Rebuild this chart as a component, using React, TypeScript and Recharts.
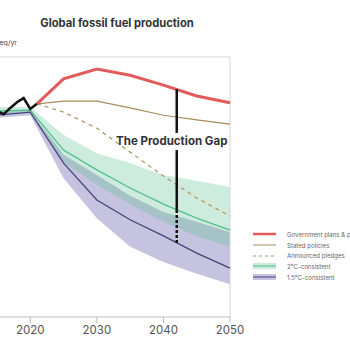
import { ComposedChart, Line, Area, XAxis, YAxis, ReferenceLine, ReferenceDot } from 'recharts';

// historical production, GtCO2eq/yr
const historyYears = [2015, 2016, 2017, 2018, 2019, 2020, 2021];
const historical = [39.6, 39.0, 40.2, 41.3, 42.1, 40.0, 41.0];

// national plans / policies
const projectionYears = [2021, 2025, 2030, 2035, 2040, 2045, 2050];
const governmentPlans = [41.0, 45.8, 47.7, 46.5, 44.6, 42.5, 41.2];
const statedPolicies = [41.0, 41.5, 41.5, 40.2, 38.8, 37.9, 37.1];
const announcedPledges = [41.0, 39.4, 36.3, 31.7, 27.1, 22.9, 19.4];

// temperature-consistent pathways (median + range)
const scenarioYears = [2015, 2020, 2025, 2030, 2035, 2040, 2045, 2050];
const twoDegMedian = [39.6, 39.8, 32.1, 28.3, 24.8, 21.7, 19.0, 16.7];
const twoDegHigh = [40.4, 40.4, 35.0, 31.5, 29.6, 27.3, 26.2, 25.0];
const twoDegLow = [39.0, 39.2, 29.8, 25.4, 21.7, 18.3, 15.6, 13.5];
const onePointFiveMedian = [38.8, 39.4, 29.6, 22.5, 18.7, 15.6, 12.3, 9.4];
const onePointFiveHigh = [39.4, 39.6, 31.2, 27.3, 23.3, 20.2, 18.3, 16.3];
const onePointFiveLow = [38.3, 38.8, 26.7, 19.0, 13.5, 10.6, 8.3, 6.3];

const xTicks = [2020, 2030, 2040, 2050];
const legendLabels = [
  'Government plans & projections',
  'Stated policies',
  'Announced pledges',
  '2°C-consistent',
  '1.5°C-consistent',
];

// production gap marker
const gapYear = 2042;
const gapTop = 43.8;
const gapTextTop = 35.4;
const gapTextBottom = 32.1;
const gapTwoDeg = 20.6;
const gapOnePointFive = 14.3;
const gapLabelY = 33.8;

const toRows = (xs: number[], ys: number[]) => xs.map((year, i) => ({ year, value: ys[i] }));
const toBand = (xs: number[], lo: number[], hi: number[]) =>
  xs.map((year, i) => ({ year, range: [lo[i], hi[i]] }));

const RED = '#e15b5b';
const TAN = '#a98c5c';
const DASH = '#b19a68';
const GREEN = '#4fbf8e';
const PURPLE = '#47447a';
const FONT = 'Inter, "Noto Sans", sans-serif';

const LegendIcon = ({ i }: { i: number }) => {
  if (i === 0) return <line x1={0} x2={23} y1={4} y2={4} stroke={RED} strokeWidth={2.5} />;
  if (i === 1) return <line x1={0} x2={23} y1={4} y2={4} stroke={TAN} strokeWidth={1} />;
  if (i === 2) return <line x1={0} x2={23} y1={4} y2={4} stroke="#9c9a6c" strokeWidth={1} strokeDasharray="3 3" />;
  const fill = i === 3 ? '#cdeadb' : '#c6c4df';
  const stroke = i === 3 ? GREEN : PURPLE;
  return (
    <g>
      <rect x={0} y={1} width={23} height={6} fill={fill} />
      <line x1={0} x2={23} y1={4} y2={4} stroke={stroke} strokeWidth={1} />
    </g>
  );
};

const App = () => {
  return (
    <div style={{ position: 'absolute', left: 0, top: 0, width: 350, height: 350, overflow: 'hidden', background: '#fff', fontFamily: FONT }}>
      <div style={{ position: 'absolute', left: 0, top: 16, width: 234, textAlign: 'center', fontSize: 11.2, fontWeight: 700, color: '#333' }}>
        Global fossil fuel production
      </div>
      <div style={{ position: 'absolute', right: 333, top: 38, whiteSpace: 'nowrap', fontSize: 7, color: '#444' }}>
        GtCO₂eq/yr
      </div>
      <div style={{ position: 'absolute', left: -3, top: 0 }}>
        <ComposedChart width={353} height={350} margin={{ top: 57, right: 120, bottom: 3, left: 0 }}>
          <XAxis
            type="number"
            dataKey="year"
            domain={[2015, 2050]}
            ticks={xTicks}
            allowDuplicatedCategory={false}
            axisLine={{ stroke: '#bbb' }}
            tickLine={{ stroke: '#bbb' }}
            tickSize={6}
            tickMargin={3}
            tick={{ fill: '#555', fontSize: 11.5, fontFamily: FONT }}
          />
          <YAxis hide type="number" domain={[0, 50]} />
          <ReferenceLine y={50} stroke="#d6d6d6" />
          <ReferenceLine x={2050} stroke="#d6d6d6" />
          <Area
            data={toBand(scenarioYears, onePointFiveLow, onePointFiveHigh)}
            dataKey="range"
            stroke="none"
            fill="#6f6aae"
            fillOpacity={0.4}
            isAnimationActive={false}
          />
          <Area
            data={toBand(scenarioYears, twoDegLow, twoDegHigh)}
            dataKey="range"
            stroke="none"
            fill="#5cc08f"
            fillOpacity={0.3}
            isAnimationActive={false}
          />
          <Line data={toRows(scenarioYears, onePointFiveMedian)} dataKey="value" stroke={PURPLE} strokeWidth={1.3} dot={false} activeDot={false} isAnimationActive={false} />
          <Line data={toRows(scenarioYears, twoDegMedian)} dataKey="value" stroke={GREEN} strokeWidth={1.3} dot={false} activeDot={false} isAnimationActive={false} />
          <Line data={toRows(projectionYears, announcedPledges)} dataKey="value" stroke={DASH} strokeWidth={1.3} strokeDasharray="4 4" dot={false} activeDot={false} isAnimationActive={false} />
          <Line data={toRows(projectionYears, statedPolicies)} dataKey="value" stroke={TAN} strokeWidth={1.2} dot={false} activeDot={false} isAnimationActive={false} />
          <Line data={toRows(projectionYears, governmentPlans)} dataKey="value" stroke={RED} strokeWidth={3} dot={false} activeDot={false} isAnimationActive={false} />
          <Line data={toRows(historyYears, historical)} dataKey="value" stroke="#111" strokeWidth={2.5} dot={false} activeDot={false} isAnimationActive={false} />
          <ReferenceLine segment={[{ x: gapYear, y: gapTop }, { x: gapYear, y: gapTextTop }]} stroke="#111" strokeWidth={2.5} />
          <ReferenceLine segment={[{ x: gapYear, y: gapTextBottom }, { x: gapYear, y: gapTwoDeg }]} stroke="#111" strokeWidth={2.5} />
          <ReferenceLine segment={[{ x: gapYear, y: gapTwoDeg }, { x: gapYear, y: gapOnePointFive }]} stroke="#111" strokeWidth={2.5} strokeDasharray="3 2" />
          <ReferenceDot
            x={gapYear}
            y={gapLabelY}
            r={0}
            shape={(p: any) => (
              <text x={p.cx - 5} y={p.cy} textAnchor="middle" dominantBaseline="central" fontSize={11.5} fontWeight={700} fill="#333" fontFamily={FONT}>
                The Production Gap
              </text>
            )}
          />
        </ComposedChart>
      </div>
      <div style={{ position: 'absolute', left: 253, top: 229 }}>
        {legendLabels.map((label, i) => (
          <div key={label} style={{ display: 'flex', alignItems: 'center', height: 10.7, whiteSpace: 'nowrap' }}>
            <svg width={23} height={8} style={{ flex: 'none' }}>
              <LegendIcon i={i} />
            </svg>
            <span style={{ marginLeft: 11, fontSize: 6.1, color: '#666' }}>{label}</span>
          </div>
        ))}
      </div>
    </div>
  );
};

export default App;
